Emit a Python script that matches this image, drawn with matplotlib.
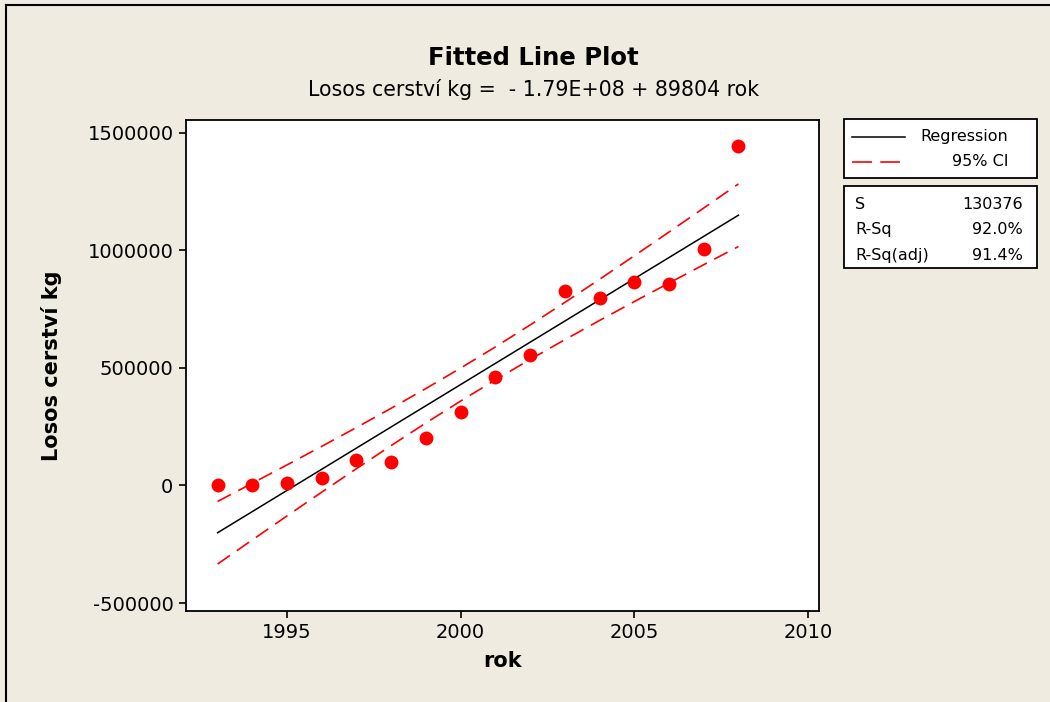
#!/usr/bin/env python3
import matplotlib
matplotlib.use('Agg')
import matplotlib.pyplot as plt
from matplotlib.lines import Line2D
from matplotlib.patches import Rectangle
import numpy as np

# Data

rok = [1993, 1994, 1995, 1996, 1997, 1998, 1999, 2000,
       2001, 2002, 2003, 2004, 2005, 2006, 2007, 2008]

losos_kg = [1000, 1000, 8500, 32000, 110000, 102000, 204000, 313000,
            462000, 556000, 828000, 797000, 866000, 859000, 1007000, 1445000]

y_ticks = [-500000, 0, 500000, 1000000, 1500000]
x_ticks = [1995, 2000, 2005, 2010]

stat_names = ['S', 'R-Sq', 'R-Sq(adj)']
stat_values = ['130376', '92.0%', '91.4%']

title = 'Fitted Line Plot'
subtitle = 'Losos cerství kg =  - 1.79E+08 + 89804 rok'

T_CRIT = 2.145  # t(0.975, 14)

BG = '#efebe1'
W, H = 1050, 702

# Regression and 95% CI from the data

x = np.array(rok, dtype=float)
y = np.array(losos_kg, dtype=float)
slope, intercept = np.polyfit(x, y, 1)
fit = intercept + slope * x
n = len(x)
s = np.sqrt(np.sum((y - fit) ** 2) / (n - 2))
sxx = np.sum((x - x.mean()) ** 2)
half = T_CRIT * s * np.sqrt(1 / n + (x - x.mean()) ** 2 / sxx)


def fx(px):
    return px / W


def fy(py):
    return 1 - py / H


fig = plt.figure(figsize=(W / 100, H / 100), dpi=100, facecolor=BG)
ax = fig.add_axes([fx(186), fy(611), fx(819) - fx(186), fy(120) - fy(611)])
ax.set_facecolor('white')

ax.plot(x, fit, color='black', linewidth=1.1)
ax.plot(x, fit + half, color='red', linewidth=1.2, dashes=(9, 5))
ax.plot(x, fit - half, color='red', linewidth=1.2, dashes=(9, 5))
ax.plot(x, y, 'o', color='red', markersize=10, markeredgewidth=0)

ax.set_xlim(1992.09, 2010.32)
ax.set_ylim(-534000, 1555000)
ax.set_xticks(x_ticks)
ax.set_yticks(y_ticks)
ax.set_yticklabels([str(v) for v in y_ticks])
ax.tick_params(direction='out', length=5, width=1.2, labelsize=14, pad=4)
for spine in ax.spines.values():
    spine.set_linewidth(1.3)

ax.set_xlabel('rok', fontsize=15, fontweight='bold', labelpad=6)
ax.set_ylabel('Losos cerství kg', fontsize=15, fontweight='bold', labelpad=18)

fig.text(fx(533), fy(58), title, ha='center', va='center',
         fontsize=17.5, fontweight='bold')
fig.text(fx(534), fy(89), subtitle, ha='center', va='center',
         fontsize=14.8)

# Legend boxes drawn by hand

fig.add_artist(Rectangle((fx(844), fy(178)), fx(1037) - fx(844), fy(119) - fy(178),
                         transform=fig.transFigure, facecolor='white',
                         edgecolor='black', linewidth=1.3))
fig.add_artist(Rectangle((fx(844), fy(268)), fx(1037) - fx(844), fy(186) - fy(268),
                         transform=fig.transFigure, facecolor='white',
                         edgecolor='black', linewidth=1.3))
fig.add_artist(Line2D([fx(852), fx(905)], [fy(137), fy(137)],
                      transform=fig.transFigure, color='black', linewidth=1.1))
fig.add_artist(Line2D([fx(852), fx(900)], [fy(162), fy(162)],
                      transform=fig.transFigure, color='red', linewidth=1.2,
                      dashes=(12, 5)))
fig.text(fx(1008), fy(137), 'Regression', ha='right', va='center', fontsize=11.5)
fig.text(fx(1008), fy(162), '95% CI', ha='right', va='center', fontsize=11.5)

for i, (name, value) in enumerate(zip(stat_names, stat_values)):
    row_y = fy(204 + 25.5 * i)
    fig.text(fx(855), row_y, name, ha='left', va='center', fontsize=11.5)
    fig.text(fx(1023), row_y, value, ha='right', va='center', fontsize=11.5)

# Frame lines at top and left edge
fig.add_artist(Line2D([fx(6), fx(W)], [fy(5), fy(5)], transform=fig.transFigure,
                      color='black', linewidth=1.5))
fig.add_artist(Line2D([fx(6), fx(6)], [fy(5), fy(H)], transform=fig.transFigure,
                      color='black', linewidth=1.5))

plt.savefig('out.png', dpi=100, facecolor=BG)
